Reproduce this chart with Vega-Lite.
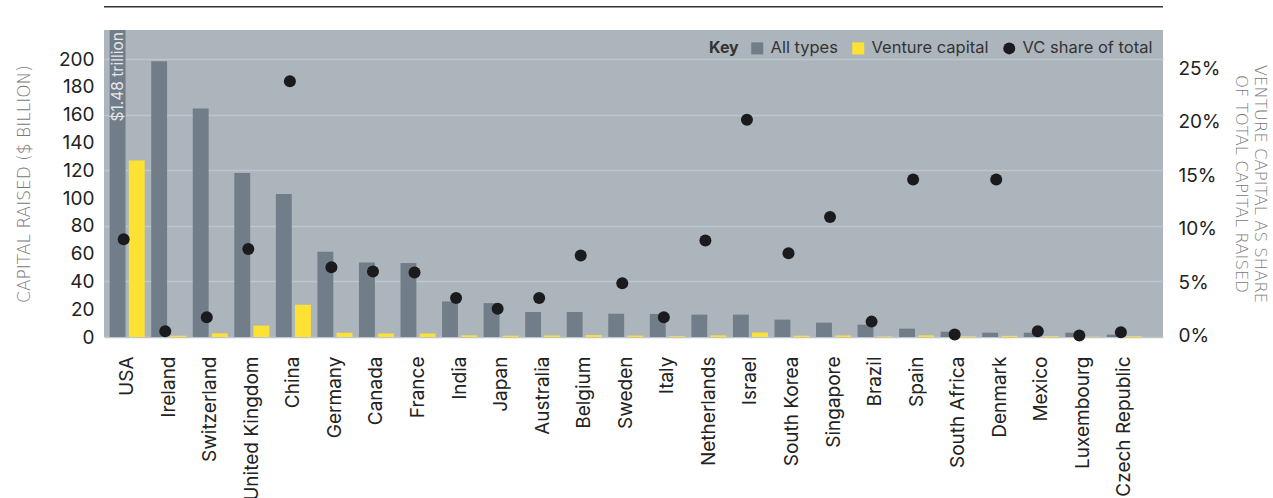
{
  "$schema": "https://vega.github.io/schema/vega-lite/v6.json",
  "autosize": "none",
  "width": 1059,
  "height": 307,
  "padding": {"left": 104, "top": 30, "right": 110, "bottom": 161},
  "background": "white",
  "config": {
    "view": {"fill": "#adb5bc", "stroke": null},
    "font": "Inter",
    "axis": {"domain": false, "ticks": false},
    "axisY": {"labelOverlap": false}
  },
  "datasets": {
    "countries": [
      {"country": "USA", "All types": 1480, "Venture capital": 127, "share": 9.0, "note": "$1.48 trillion"},
      {"country": "Ireland", "All types": 198.5, "Venture capital": 0.9, "share": 0.4},
      {"country": "Switzerland", "All types": 164.5, "Venture capital": 2.6, "share": 1.7},
      {"country": "United Kingdom", "All types": 118, "Venture capital": 8.2, "share": 8.1},
      {"country": "China", "All types": 103, "Venture capital": 23.2, "share": 23.8},
      {"country": "Germany", "All types": 61.3, "Venture capital": 3.0, "share": 6.4},
      {"country": "Canada", "All types": 53.6, "Venture capital": 2.5, "share": 6.0},
      {"country": "France", "All types": 53.2, "Venture capital": 2.5, "share": 5.9},
      {"country": "India", "All types": 25.6, "Venture capital": 1.2, "share": 3.5},
      {"country": "Japan", "All types": 24.4, "Venture capital": 0.9, "share": 2.5},
      {"country": "Australia", "All types": 18, "Venture capital": 1.1, "share": 3.5},
      {"country": "Belgium", "All types": 18, "Venture capital": 1.4, "share": 7.5},
      {"country": "Sweden", "All types": 16.8, "Venture capital": 1.0, "share": 4.9},
      {"country": "Italy", "All types": 16.6, "Venture capital": 0.6, "share": 1.7},
      {"country": "Netherlands", "All types": 16.1, "Venture capital": 1.2, "share": 8.9},
      {"country": "Israel", "All types": 16.1, "Venture capital": 3.2, "share": 20.2},
      {"country": "South Korea", "All types": 12.5, "Venture capital": 0.9, "share": 7.7},
      {"country": "Singapore", "All types": 10.3, "Venture capital": 1.1, "share": 11.1},
      {"country": "Brazil", "All types": 8.9, "Venture capital": 0.4, "share": 1.3},
      {"country": "Spain", "All types": 6.0, "Venture capital": 1.2, "share": 14.6},
      {"country": "South Africa", "All types": 3.8, "Venture capital": 0.5, "share": 0.1},
      {"country": "Denmark", "All types": 3.1, "Venture capital": 0.8, "share": 14.6},
      {"country": "Mexico", "All types": 3.1, "Venture capital": 0.6, "share": 0.4},
      {"country": "Luxembourg", "All types": 3.1, "Venture capital": 0.2, "share": 0.0},
      {"country": "Czech Republic", "All types": 1.7, "Venture capital": 0.6, "share": 0.3}
    ],
    "topline": [{"line": "header rule"}]
  },
  "data": {"name": "countries"},
  "layer": [
    {
      "layer": [
        {
          "transform": [{"fold": ["All types", "Venture capital"], "as": ["series", "value"]}],
          "mark": {"type": "bar", "clip": true},
          "encoding": {
            "x": {
              "field": "country",
              "type": "nominal",
              "sort": null,
              "scale": {"paddingInner": 0, "paddingOuter": 0.2437, "align": 0.119},
              "axis": {
                "title": null,
                "labelAngle": -90,
                "labelFontSize": 19,
                "labelColor": "#222222",
                "labelPadding": 19,
                "labelLimit": 0,
                "labelOverlap": false
              }
            },
            "xOffset": {"field": "series", "type": "nominal", "scale": {"paddingInner": 0.17, "paddingOuter": 0.17}},
            "y": {
              "field": "value",
              "type": "quantitative",
              "scale": {"domain": [0, 221], "nice": false},
              "axis": {
                "title": "CAPITAL RAISED ($ BILLION)",
                "values": [0, 20, 40, 60, 80, 100, 120, 140, 160, 180, 200],
                "tickCount": 30,
                "labelOverlap": false,
                "labelFontSize": 19,
                "labelColor": "#222222",
                "labelPadding": 10,
                "titleFont": "DejaVu Sans",
                "titleFontSize": 17,
                "titleFontWeight": 200,
                "titleColor": "#777777",
                "titlePadding": 25,
                "grid": true,
                "gridWidth": 1.5,
                "gridColor": "#bfc6cc",
                "gridOpacity": {"condition": {"test": "datum.value % 40 === 0", "value": 1}, "value": 0}
              }
            },
            "color": {
              "field": "series",
              "type": "nominal",
              "scale": {
                "domain": ["All types", "Venture capital", "VC share of total"],
                "range": ["#717d89", "#fde233", "#1b1b1d"]
              },
              "legend": {
                "title": "Key",
                "orient": "top-right",
                "direction": "horizontal",
                "titleOrient": "left",
                "titleFontSize": 16,
                "titleFontWeight": "bold",
                "titleColor": "#333333",
                "titlePadding": 10,
                "labelFontSize": 16.5,
                "labelColor": "#333333",
                "labelOffset": 5,
                "labelLimit": 0,
                "columnPadding": 12,
                "symbolSize": 144,
                "symbolStrokeWidth": 0,
                "offset": 10,
                "padding": 0,
                "encode": {
                  "symbols": {
                    "update": {
                      "shape": [{"test": "datum.label === 'VC share of total'", "value": "circle"}, {"value": "square"}]
                    }
                  }
                }
              }
            }
          }
        },
        {
          "transform": [{"filter": "datum.note"}],
          "mark": {"type": "text", "angle": 270, "align": "right", "baseline": "middle", "fontSize": 15.5, "color": "#e4e7ea"},
          "encoding": {
            "x": {"field": "country", "type": "nominal", "sort": null},
            "xOffset": {"datum": "All types"},
            "y": {"datum": 219.5},
            "text": {"field": "note"}
          }
        },
        {
          "data": {"name": "topline"},
          "mark": {"type": "rule", "color": "#333333", "strokeWidth": 1.5},
          "encoding": {"y": {"datum": 237.8}}
        }
      ]
    },
    {
      "mark": {"type": "point", "filled": true, "size": 144, "opacity": 1, "xOffset": -3.5, "shape": "circle"},
      "encoding": {
        "x": {"field": "country", "type": "nominal", "sort": null},
        "y": {
          "field": "share",
          "type": "quantitative",
          "scale": {"domain": [-0.14, 28.6], "nice": false, "zero": false},
          "axis": {
            "orient": "right",
            "title": ["VENTURE CAPITAL AS SHARE", "OF TOTAL CAPITAL RAISED"],
            "values": [0, 5, 10, 15, 20, 25],
            "tickCount": 30,
            "labelExpr": "datum.value + '%'",
            "grid": false,
            "labelFontSize": 19,
            "labelColor": "#222222",
            "labelPadding": 15,
            "titleAngle": 90,
            "titleFont": "DejaVu Sans",
            "titleFontSize": 16.5,
            "titleFontWeight": 200,
            "titleColor": "#777777",
            "titleLineHeight": 19,
            "titlePadding": 12
          }
        },
        "color": {"datum": "VC share of total"}
      }
    }
  ],
  "resolve": {"scale": {"y": "independent"}}
}
